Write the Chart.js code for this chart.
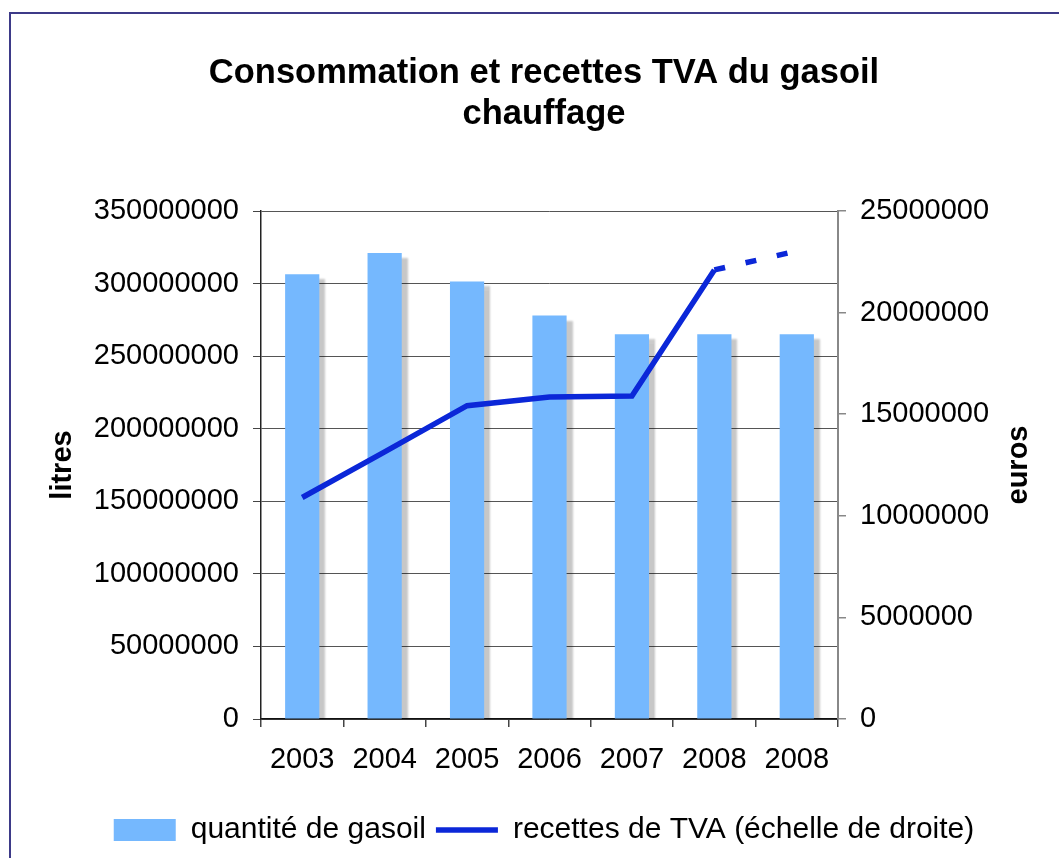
<!DOCTYPE html>
<html><head><meta charset="utf-8">
<script src="https://cdn.jsdelivr.net/npm/chart.js@4.4.0/dist/chart.umd.min.js"></script>
<style>
html,body{margin:0;padding:0;overflow:hidden;background:#fff;width:1059px;height:858px;}
#frame{position:absolute;left:9px;top:12px;width:1200px;height:1000px;border-left:2px solid #3d3a88;border-top:2px solid #3d3a88;box-sizing:border-box;}
#wrap{position:absolute;left:0;top:0;width:1088px;height:858px;}
</style></head><body>
<div id="frame"></div>
<div id="wrap"><canvas id="c" width="1088" height="858"></canvas></div>
<script>
const years = ['2003', '2004', '2005', '2006', '2007', '2008', '2008'];
const quantiteGasoil = [306500000, 321000000, 301500000, 278000000, 265000000, 265000000, 265000000];
const recettesTVA = [10900000, 13150000, 15420000, 15850000, 15900000, 22100000, 23030000];
const titleLines = ['Consommation et recettes TVA du gasoil', 'chauffage'];
const seriesNames = ['quantité de gasoil', 'recettes de TVA (échelle de droite)'];
const leftAxisTitle = 'litres';
const rightAxisTitle = 'euros';

const FONT = '"Liberation Sans", Arial, Helvetica, sans-serif';
Chart.defaults.font.family = FONT;
Chart.defaults.color = '#000';

const barShadow = {
  id: 'barShadow',
  beforeDatasetDraw(chart, args) {
    if (args.index === 0) {
      const c = chart.ctx; c.save();
      c.shadowColor = 'rgba(0,0,0,0.22)';
      c.shadowOffsetX = 6; c.shadowOffsetY = 5; c.shadowBlur = 2;
    }
  },
  afterDatasetDraw(chart, args) { if (args.index === 0) chart.ctx.restore(); }
};
const rightTitle = {
  id: 'rightTitle',
  afterDraw(chart) {
    const {ctx, chartArea} = chart;
    ctx.save();
    ctx.translate(chartArea.right + 181, (chartArea.top + chartArea.bottom) / 2);
    ctx.rotate(-Math.PI / 2);
    ctx.font = 'bold 29px ' + FONT;
    ctx.textAlign = 'center'; ctx.textBaseline = 'middle'; ctx.fillStyle = '#000';
    ctx.fillText(rightAxisTitle, 0, 0);
    ctx.restore();
  }
};

new Chart(document.getElementById('c'), {
  type: 'bar',
  data: {
    labels: years,
    datasets: [
      { type: 'bar', label: seriesNames[0], data: quantiteGasoil, yAxisID: 'y',
        backgroundColor: '#75b8fe', borderWidth: 0, order: 1,
        categoryPercentage: 1, barPercentage: 0.415 },
      { type: 'line', label: seriesNames[1], data: recettesTVA, yAxisID: 'y2',
        borderColor: '#0b27d8', backgroundColor: '#0b27d8', borderWidth: 5.5,
        pointRadius: 0, pointHoverRadius: 0, tension: 0, order: 0, pointStyle: 'line',
        segment: { borderDash: ctx => ctx.p1DataIndex === 6 ? [11, 21] : undefined } }
    ]
  },
  options: {
    responsive: false, animation: false, devicePixelRatio: 1,
    layout: { padding: { top: 0, left: 0, right: 0, bottom: 3 } },
    plugins: {
      tooltip: { enabled: false },
      title: { display: true, text: titleLines, color: '#000',
        font: { size: 34.5, weight: 'bold', lineHeight: 1.2 },
        padding: { top: 52.3, bottom: 75.9 } },
      legend: { position: 'bottom',
        labels: { usePointStyle: true, pointStyleWidth: 62, boxHeight: 22, padding: 10,
          font: { size: 30 }, color: '#000',
          sort: (a, b) => a.datasetIndex - b.datasetIndex,
          generateLabels(chart) {
            const items = Chart.defaults.plugins.legend.labels.generateLabels(chart);
            items.forEach(it => {
              if (it.datasetIndex === 0) { it.pointStyle = 'rect'; it.lineWidth = 0; it.fillStyle = '#75b8fe'; }
              else { it.pointStyle = 'line'; it.lineWidth = 5.5; it.strokeStyle = '#0b27d8'; it.lineDash = []; }
            });
            return items.sort((a, b) => a.datasetIndex - b.datasetIndex);
          } } }
    },
    scales: {
      x: { grid: { drawOnChartArea: false, offset: true, tickLength: 8, tickColor: '#444', lineWidth: 1.5 },
        border: { color: '#111', width: 1.5 },
        ticks: { font: { size: 29 }, color: '#000', padding: 16, maxRotation: 0, autoSkip: false },
        afterFit(s) { s.height = 86; } },
      y: { position: 'left', min: 0, max: 350000000,
        ticks: { stepSize: 50000000, callback: v => String(v), font: { size: 29 }, color: '#000', padding: 14 },
        grid: { color: '#555', lineWidth: 1, tickLength: 8, tickColor: '#444' },
        border: { color: '#222', width: 1.5 },
        title: { display: true, text: leftAxisTitle, font: { size: 29, weight: 'bold' }, color: '#000', padding: { top: 46, bottom: 0 } },
        afterFit(s) { s.width = 261; } },
      y2: { position: 'right', min: 0, max: 25000000,
        ticks: { stepSize: 5000000, callback: v => String(v), font: { size: 29 }, color: '#000', padding: 14 },
        grid: { drawOnChartArea: false, tickLength: 8, tickColor: '#888', lineWidth: 1.5 },
        border: { color: '#888', width: 2 },
        afterFit(s) { s.width = 250; } }
    }
  },
  plugins: [barShadow, rightTitle]
});
</script>
</body></html>
